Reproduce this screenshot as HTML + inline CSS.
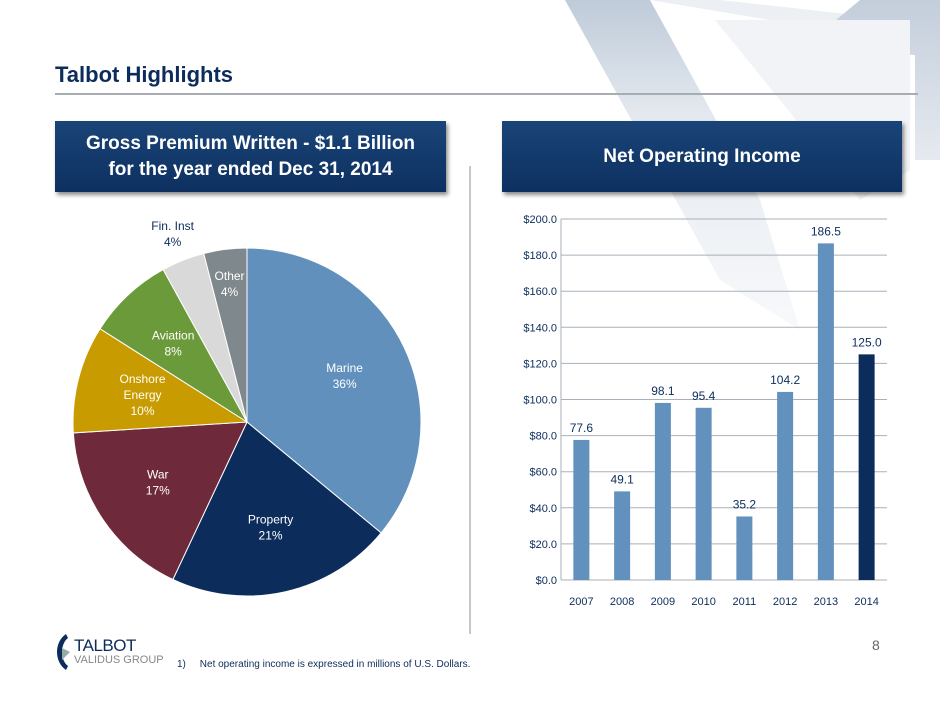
<!DOCTYPE html>
<html><head><meta charset="utf-8"><style>
body{margin:0;width:940px;height:705px;overflow:hidden;background:#fff;font-family:"Liberation Sans",sans-serif;position:relative}
.box{position:absolute;background:linear-gradient(#1a4478,#0d3060);color:#fff;font-weight:bold;text-align:center;box-shadow:2px 3px 4px rgba(0,0,0,.45);display:flex;align-items:center;justify-content:center;font-size:19px;line-height:26px}
</style></head><body>
<svg width="940" height="705" style="position:absolute;left:0;top:0">
<defs>
<linearGradient id="fadeA" x1="0" y1="0" x2="0" y2="1"><stop offset="0" stop-color="#bfcbd9"/><stop offset="0.35" stop-color="#e4e9ef"/><stop offset="1" stop-color="#f8f9fb"/></linearGradient>
<linearGradient id="fadeB" x1="0" y1="0" x2="0" y2="1"><stop offset="0" stop-color="#c3cedb"/><stop offset="1" stop-color="#e6eaf0"/></linearGradient>
</defs>
<polygon points="565,0 650,0 760,200 800,330 720,280" fill="url(#fadeA)"/>
<polygon points="650,0 720,0 900,20 770,20" fill="#eceff3"/>
<polygon points="860,0 940,0 940,160 915,160 915,55 800,50" fill="url(#fadeB)"/>
<polygon points="715,20 910,20 910,170 860,200 780,100" fill="#f1f3f6"/>
</svg>
<div style="position:absolute;left:55px;top:62px;font-size:22px;font-weight:bold;color:#0c2d5c">Talbot Highlights</div>
<div style="position:absolute;left:55px;top:93px;width:863px;height:2px;background:#a8adb3"></div>
<div class="box" style="left:55px;top:121px;width:391px;height:71px">Gross Premium Written - $1.1 Billion<br>for the year ended Dec 31, 2014</div>
<div class="box" style="left:502px;top:121px;width:400px;height:71px">Net Operating Income</div>
<div style="position:absolute;left:469px;top:166px;width:2px;height:468px;background:#c8c8c8"></div>
<svg id="pie" width="940" height="705" style="position:absolute;left:0;top:0"></svg>
<svg id="bar" width="940" height="705" style="position:absolute;left:0;top:0"></svg>
<div style="position:absolute;left:872px;top:637px;font-size:14px;color:#666">8</div>
<div style="position:absolute;left:52px;top:632px">
<svg width="22" height="40" style="position:absolute;left:0;top:0"><path d="M14,2 C2,10 2,30 14,38 L16,34 C8,28 8,12 16,6Z" fill="#0c2d5c"/><path d="M10,16 L18,20 L10,28Z" fill="#9aa"/></svg>
<div style="position:absolute;left:22px;top:4px;font-size:17px;color:#0c2d5c;letter-spacing:-0.5px">TALBOT</div>
<div style="position:absolute;left:22px;top:22px;font-size:11px;color:#888;white-space:nowrap">VALIDUS GROUP</div>
</div>
<div style="position:absolute;left:177px;top:659px;font-size:10px;color:#0c2d5c;white-space:nowrap">1)&nbsp;&nbsp;&nbsp;&nbsp; Net operating income is expressed in millions of U.S. Dollars.</div>
<script>
const pieLabels=["Marine","Property","War","Onshore Energy","Aviation","Fin. Inst","Other"];
const pieValues=[36,21,17,10,8,4,4];
const pieColors=["#6190bd","#0c2d5c","#6e2a3a","#c89b00","#6a9a3a","#d9d9d9","#7f888d"];
const years=["2007","2008","2009","2010","2011","2012","2013","2014"];
const income=[77.6,49.1,98.1,95.4,35.2,104.2,186.5,125.0];
const yTicks=[0,20,40,60,80,100,120,140,160,180,200];
const NS="http://www.w3.org/2000/svg";
function mk(p,t,a){const e=document.createElementNS(NS,t);for(const k in a)e.setAttribute(k,a[k]);p.appendChild(e);return e;}
const pie=document.getElementById('pie');const cx=247,cy=422,R=174;
const tot=pieValues.reduce((a,b)=>a+b,0);let acc=0;
pieValues.forEach((v,i)=>{
 const a0=acc/tot*2*Math.PI,a1=(acc+v)/tot*2*Math.PI;acc+=v;
 const p=(a)=>[cx+R*Math.sin(a),cy-R*Math.cos(a)];
 const [x0,y0]=p(a0),[x1,y1]=p(a1);
 const s=mk(pie,'path',{d:`M${cx},${cy}L${x0},${y0}A${R},${R} 0 ${a1-a0>Math.PI?1:0} 1 ${x1},${y1}Z`,fill:pieColors[i],stroke:'#fff','stroke-width':1});
 
 
 const am=(a0+a1)/2;const outside=i==5;const rr=outside?R+28:(v<=4?R*0.8:R*0.62);
 const lx=cx+rr*Math.sin(am),ly=cy-rr*Math.cos(am);
 const lines=i==5?[pieLabels[i]]:pieLabels[i].split(' ');
 lines.push(v+'%');
 const t=mk(pie,'text',{x:lx,y:ly-(lines.length-1)*8+4,'text-anchor':'middle','font-size':12,fill:outside?'#0c2d5c':'#fff'});
 
 
 lines.forEach((l,j)=>{const ts=mk(t,'tspan',{x:lx,dy:j?16:0});ts.textContent=l;});
});
const bar=document.getElementById('bar');
const X0=561,X1=887,Y0=580,Y1=219,ymax=200;
const y=v=>Y0-(Y0-Y1)*v/ymax;const bw=(X1-X0)/years.length;const xc=i=>X0+bw*(i+0.5);
yTicks.forEach(t=>{
 const g=mk(bar,'line',{x1:X0,x2:X1,y1:y(t),y2:y(t),stroke:'#a9b0ba'});
 
 
 const l=mk(bar,'text',{x:X0-4,y:y(t)+4,'text-anchor':'end','font-size':11,fill:'#0c2d5c'});l.textContent='$'+t.toFixed(1);
 
 
});
mk(bar,'line',{x1:X0,x2:X0,y1:Y1,y2:Y0,stroke:'#a9b0ba'});
years.forEach((yr,i)=>{
 const r=mk(bar,'rect',{x:xc(i)-8,y:y(income[i]),width:16,height:Y0-y(income[i]),fill:i==years.length-1?'#0c2d5c':'#6191bc'});
 
 
 const v=mk(bar,'text',{x:xc(i),y:y(income[i])-8,'text-anchor':'middle','font-size':12,fill:'#0c2d5c'});v.textContent=income[i].toFixed(1);
 
 
 const c=mk(bar,'text',{x:xc(i),y:Y0+25,'text-anchor':'middle','font-size':11,fill:'#0c2d5c'});c.textContent=yr;
 
 
});
</script>
</body></html>
